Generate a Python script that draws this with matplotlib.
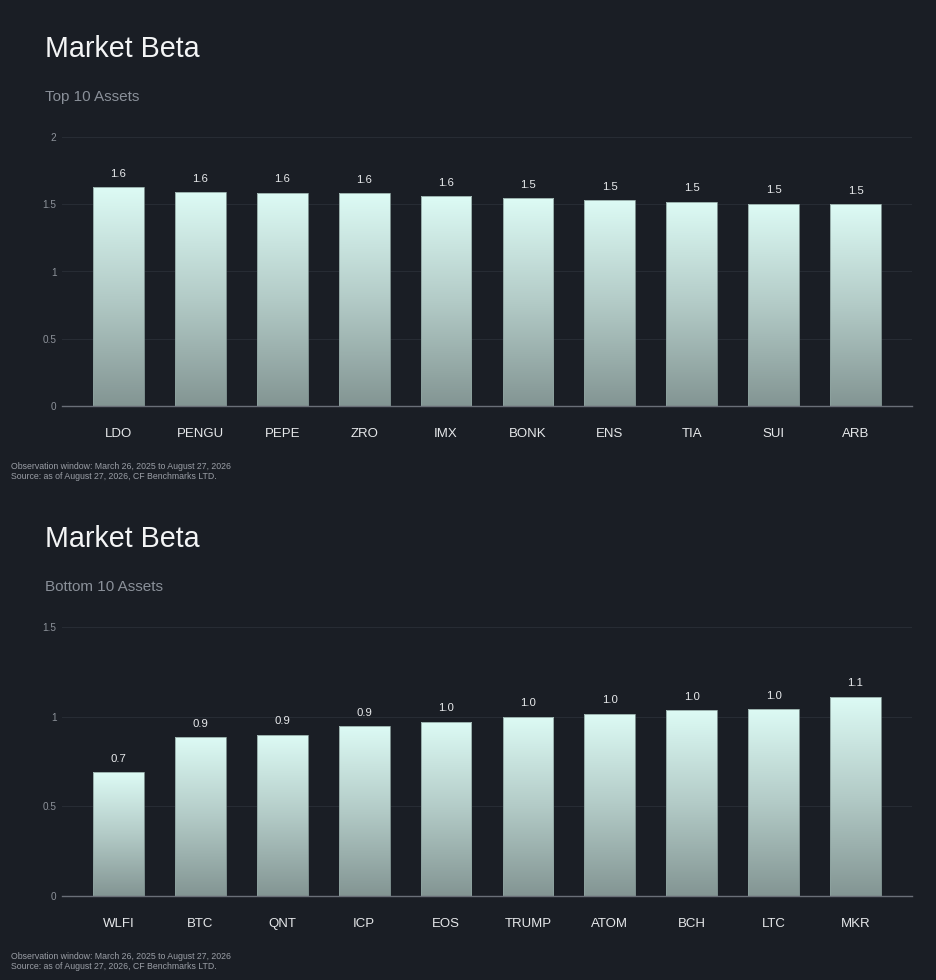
import matplotlib
matplotlib.use("Agg")
import matplotlib.pyplot as plt
import numpy as np
from matplotlib.colors import LinearSegmentedColormap

plt.rcParams['font.family'] = ['Liberation Sans', 'DejaVu Sans']

top_assets = ["LDO", "PENGU", "PEPE", "ZRO", "IMX", "BONK", "ENS", "TIA", "SUI", "ARB"]
top_values = [1.628, 1.591, 1.586, 1.581, 1.559, 1.546, 1.532, 1.519, 1.504, 1.499]
top_yticks = [0, 0.5, 1, 1.5, 2]
top_yticklabels = ["0", "0.5", "1", "1.5", "2"]

bottom_assets = ["WLFI", "BTC", "QNT", "ICP", "EOS", "TRUMP", "ATOM", "BCH", "LTC", "MKR"]
bottom_values = [0.690, 0.887, 0.900, 0.948, 0.972, 1.000, 1.017, 1.037, 1.043, 1.112]
bottom_yticks = [0, 0.5, 1, 1.5]
bottom_yticklabels = ["0", "0.5", "1", "1.5"]

title = "Market Beta"
subtitles = ["Top 10 Assets", "Bottom 10 Assets"]
footnotes = ["Observation window: March 26, 2025 to August 27, 2026",
             "Source: as of August 27, 2026, CF Benchmarks LTD."]

BG = "#1a1e25"
W, H = 936, 980
fig = plt.figure(figsize=(W / 100, H / 100), dpi=100, facecolor=BG)

cmap = LinearSegmentedColormap.from_list("bar", ["#839593", "#b3cbc7", "#ddfbf5"])


def draw_panel(y_off, assets, values, yticks, yticklabels, ymax, subtitle):
    left = 62 / W
    width = (912 - 62) / W
    bottom = (H - (y_off + 406)) / H
    height = 269 / H
    ax = fig.add_axes([left, bottom, width, height], facecolor=BG)
    x = np.arange(len(assets))
    bw = 0.62
    bars = ax.bar(x, values, width=bw, color="none", edgecolor="#8da29f",
                  linewidth=0.6, zorder=3)
    grad = np.linspace(0, 1, 256).reshape(-1, 1)
    for b, v in zip(bars, values):
        im = ax.imshow(grad, cmap=cmap, origin="lower", aspect="auto",
                       extent=(b.get_x(), b.get_x() + b.get_width(), 0, v),
                       zorder=2, interpolation="bilinear")
        im.set_clip_path(b)
        ax.annotate(f"{v:.1f}", (b.get_x() + b.get_width() / 2, v),
                    xytext=(0, 7.5), textcoords="offset points",
                    ha="center", va="baseline", fontsize=8.2, color="#e8eaec")
    ax.set_xlim(-0.69, len(assets) - 1 + 0.69)
    ax.set_ylim(0, ymax)
    ax.set_yticks(yticks)
    ax.set_yticklabels(yticklabels)
    ax.set_xticks(x)
    ax.set_xticklabels(assets)
    ax.tick_params(axis="y", length=0, pad=4, labelsize=7.2, labelcolor="#8d929a")
    ax.tick_params(axis="x", length=0, pad=15.5, labelsize=9.5, labelcolor="#e6e8ea")
    for s in ["top", "right", "left"]:
        ax.spines[s].set_visible(False)
    ax.spines["bottom"].set_color("#6a6f78")
    ax.spines["bottom"].set_linewidth(1.0)
    ax.spines["bottom"].set_zorder(4)
    ax.yaxis.grid(True, color="#272c34", linewidth=0.8, zorder=0)
    ax.set_axisbelow(True)

    fig.text(45 / W, 1 - (y_off + 57) / H, title, fontsize=20.6, color="#f4f5f6",
             ha="left", va="baseline")
    fig.text(45 / W, 1 - (y_off + 101) / H, subtitle, fontsize=11, color="#8a9099",
             ha="left", va="baseline")
    fig.text(11 / W, 1 - (y_off + 469) / H, footnotes[0], fontsize=6.3, color="#9a9ea6",
             ha="left", va="baseline")
    fig.text(11 / W, 1 - (y_off + 479) / H, footnotes[1], fontsize=6.3, color="#9a9ea6",
             ha="left", va="baseline")
    return ax


draw_panel(0, top_assets, top_values, top_yticks, top_yticklabels, 2, subtitles[0])
draw_panel(490, bottom_assets, bottom_values, bottom_yticks, bottom_yticklabels, 1.5, subtitles[1])

fig.savefig("out.png", dpi=100, facecolor=BG)
